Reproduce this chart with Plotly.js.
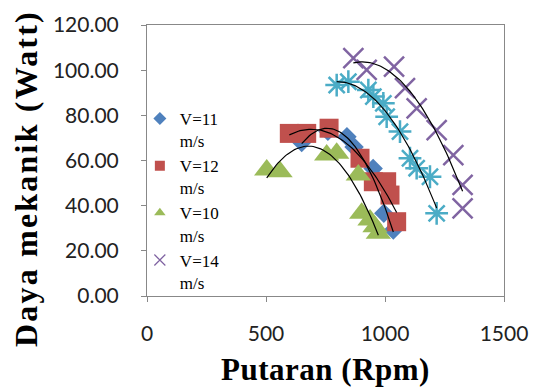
<!DOCTYPE html>
<html>
<head>
<meta charset="utf-8">
<script src="https://cdn.plot.ly/plotly-3.0.1.min.js"></script>
<style>
html,body{margin:0;padding:0;background:#fff;}
#chart{width:533px;height:388px;}
#chart .annotation-text{letter-spacing:2.2px;}
#chart .xtitle{letter-spacing:0.5px;}
</style>
</head>
<body>
<div id="chart"></div>
<script>
// Series data (rpm, mechanical power in Watt)
const rpmV11 = [650, 760, 840, 870, 950, 995, 1035];
const powV11 = [68.0, 73.0, 70.5, 66.0, 56.5, 36.6, 29.2];

const rpmV12 = [598, 671, 765, 895, 951, 1007, 1021, 1049];
const powV12 = [72.0, 72.0, 74.3, 61.0, 50.6, 50.6, 44.7, 32.9];

const rpmV10 = [503, 559, 755, 797, 888, 902, 937, 958, 972];
const powV10 = [55.8, 55.0, 62.4, 63.2, 53.6, 36.6, 33.7, 30.7, 27.8];

const rpmV14 = [867, 923, 1038, 1084, 1133, 1217, 1287, 1326, 1326];
const powV14 = [105.3, 100.1, 101.6, 92.0, 83.1, 73.5, 62.4, 49.2, 38.8];

const rpmV13 = [797, 846, 930, 951, 993, 1007, 1063, 1105, 1133, 1189, 1217];
const powV13 = [93.4, 94.9, 91.2, 88.3, 85.3, 79.4, 72.8, 61.0, 56.6, 52.8, 36.6];

const seriesNames = ["V=11<br>m/s", "V=12<br>m/s", "V=10<br>m/s", "V=14<br>m/s", "V=13<br>m/s"];
const xTitle = "Putaran (Rpm)";
const yTitle = "Daya mekanik (Watt)";

// quadratic least squares trendline (like Excel polynomial order 2)
function polyFit2(xs, ys) {
  let n = xs.length, s = [0,0,0,0,0], t = [0,0,0];
  for (let i = 0; i < n; i++) {
    const x = xs[i], y = ys[i];
    let p = 1;
    for (let k = 0; k < 5; k++) { s[k] += p; if (k < 3) t[k] += p * y; p *= x; }
  }
  const A = [[s[0], s[1], s[2], t[0]], [s[1], s[2], s[3], t[1]], [s[2], s[3], s[4], t[2]]];
  for (let c = 0; c < 3; c++) {
    let piv = c;
    for (let r = c + 1; r < 3; r++) if (Math.abs(A[r][c]) > Math.abs(A[piv][c])) piv = r;
    [A[c], A[piv]] = [A[piv], A[c]];
    for (let r = 0; r < 3; r++) {
      if (r === c) continue;
      const f = A[r][c] / A[c][c];
      for (let k = c; k < 4; k++) A[r][k] -= f * A[c][k];
    }
  }
  return [A[0][3] / A[0][0], A[1][3] / A[1][1], A[2][3] / A[2][2]];
}
function trend(xs, ys) {
  const c = polyFit2(xs, ys);
  const lo = Math.min(...xs), hi = Math.max(...xs);
  const tx = [], ty = [];
  for (let i = 0; i <= 60; i++) {
    const x = lo + (hi - lo) * i / 60;
    tx.push(x); ty.push(c[0] + c[1] * x + c[2] * x * x);
  }
  return {x: tx, y: ty};
}

const serif = "'Liberation Serif', 'Times New Roman', serif";
const sans = "Lato, 'Liberation Sans', sans-serif";

const specs = [
  {x: rpmV11, y: powV11, name: seriesNames[0], color: "#4F81BD", symbol: "diamond", size: 15, legend: true},
  {x: rpmV12, y: powV12, name: seriesNames[1], color: "#C0504D", symbol: "square", size: 19, legend: true},
  {x: rpmV10, y: powV10, name: seriesNames[2], color: "#9BBB59", symbol: "triangle-up", size: 22, legend: true},
  {x: rpmV14, y: powV14, name: seriesNames[3], color: "#8064A2", symbol: "x-thin-open", size: 20, legend: true},
  {x: rpmV13, y: powV13, name: seriesNames[4], color: "#4BACC6", symbol: "asterisk-open", size: 19, legend: false}
];

const isOpen = s => s.symbol.indexOf("open") >= 0;
const traces = [];
// legend entries (small legend symbols, as in the original)
specs.filter(s => s.legend).forEach(s => {
  traces.push({type: "scatter", mode: "markers", x: [null], y: [null], name: s.name, legendgroup: s.name,
    marker: {color: s.color, symbol: s.symbol, size: isOpen(s) ? 11 : 10,
             line: {color: s.color, width: isOpen(s) ? 1.2 : 0}}, hoverinfo: "skip"});
});
specs.forEach(s => {
  traces.push({
    type: "scatter", mode: "markers", x: s.x, y: s.y, name: s.name, legendgroup: s.name, showlegend: false,
    marker: {color: s.color, symbol: s.symbol, size: s.size,
             line: {color: s.color, width: isOpen(s) ? 2.5 : 0}},
    hoverinfo: "x+y"
  });
});
specs.forEach(s => {
  const t = trend(s.x, s.y);
  traces.push({type: "scatter", mode: "lines", x: t.x, y: t.y, showlegend: false,
               line: {color: "#000", width: 1.2}, hoverinfo: "skip"});
});

const layout = {
  width: 533, height: 388,
  margin: {l: 147, r: 29, t: 25, b: 92},
  paper_bgcolor: "#fff", plot_bgcolor: "#fff",
  showlegend: true,
  legend: {x: -0.02, y: 0.72, xanchor: "left", yanchor: "top", bgcolor: "rgba(0,0,0,0)",
           font: {family: serif, size: 17, color: "#000"}, valign: "top", itemsizing: "trace",
           itemwidth: 30, tracegroupgap: 0},
  xaxis: {
    range: [0, 1500], dtick: 500, tick0: 0,
    showgrid: false, zeroline: false, showline: true, mirror: true, linecolor: "#888", linewidth: 1,
    ticks: "outside", ticklen: 5, tickcolor: "#888", ticklabelstandoff: 14,
    tickfont: {family: sans, size: 21, color: "#222"},
    title: {text: xTitle, font: {family: serif, size: 31, color: "#000", weight: "bold"}, standoff: 14}
  },
  yaxis: {
    range: [0, 120], dtick: 20, tick0: 0, tickformat: ".2f",
    showgrid: false, zeroline: false, showline: true, mirror: true, linecolor: "#888", linewidth: 1,
    ticks: "outside", ticklen: 5, tickcolor: "#888", ticklabelstandoff: 18,
    tickfont: {family: sans, size: 21, color: "#222"}
  },
  annotations: [{
    text: yTitle, xref: "paper", yref: "paper", x: -0.339, y: 0.435,
    xanchor: "center", yanchor: "middle", textangle: -90, showarrow: false,
    font: {family: serif, size: 32, color: "#000", weight: "bold"}
  }]
};

Plotly.newPlot("chart", traces, layout, {displayModeBar: false, staticPlot: true});
</script>
</body>
</html>
